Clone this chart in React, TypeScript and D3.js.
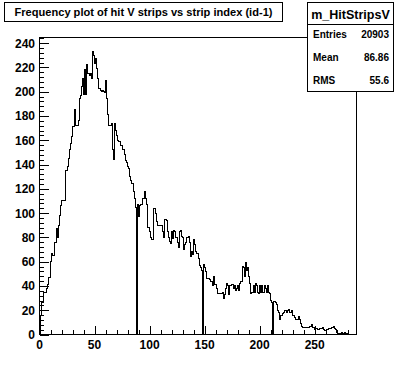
import { useEffect, useRef } from 'react';
import * as d3 from 'd3';

const title = 'Frequency plot of hit V strips vs strip index (id-1)';
const histName = 'm_HitStripsV';
const statLabels = ['Entries', 'Mean', 'RMS'];
const statValues = ['20903', '86.86', '55.6'];

// strip index range
const xMin = 0;
const xMax = 288;

// counts per strip (bins 0..287)
const counts = [
  8, 16, 26, 26, 35, 35, 38, 41, 47, 47,
  60, 67, 65, 65, 76, 87, 80, 90, 98, 106,
  110, 110, 110, 110, 135, 138, 145, 152, 157, 163,
  171, 171, 185, 172, 172, 176, 194, 197, 204, 211,
  198, 218, 198, 222, 215, 213, 215, 211, 233, 230,
  223, 227, 219, 211, 203, 201, 200, 201, 200, 199,
  209, 194, 181, 172, 172, 174, 152, 144, 174, 168,
  164, 160, 159, 159, 156, 152, 152, 148, 143, 142,
  138, 137, 130, 127, 124, 118, 112, 105, 0, 107,
  97, 106, 107, 107, 112, 118, 112, 107, 88, 88,
  85, 80, 78, 78, 104, 100, 93, 90, 90, 90,
  90, 90, 85, 80, 95, 94, 85, 80, 77, 75,
  85, 79, 86, 85, 80, 76, 72, 85, 86, 81,
  80, 70, 74, 76, 80, 81, 76, 64, 68, 66,
  78, 74, 68, 67, 63, 57, 55, 53, 0, 58,
  55, 52, 46, 46, 45, 44, 44, 40, 48, 41,
  41, 38, 34, 34, 34, 34, 35, 30, 33, 38,
  42, 40, 33, 40, 41, 41, 38, 40, 36, 38,
  40, 36, 42, 44, 56, 55, 48, 59, 53, 55,
  48, 42, 34, 35, 40, 35, 42, 40, 35, 34,
  40, 35, 40, 35, 40, 38, 35, 40, 35, 34,
  28, 26, 0, 27, 26, 25, 20, 18, 12, 16,
  16, 17, 18, 20, 18, 20, 21, 18, 18, 20,
  16, 16, 14, 12, 12, 15, 12, 9, 7, 6,
  6, 6, 6, 6, 6, 7, 7, 8, 6, 6,
  4, 5, 5, 4, 5, 5, 5, 6, 4, 3,
  3, 4, 4, 5, 5, 6, 6, 7, 5, 4,
  2, 1, 1, 1, 2, 1, 1, 2, 1, 1,
  0, 0, 0, 0, 0, 0, 0, 0,
];

const xLabelTicks = [0, 50, 100, 150, 200, 250];
const yLabelTicks = [0, 20, 40, 60, 80, 100, 120, 140, 160, 180, 200, 220, 240];

const App = () => {
  const svgRef = useRef<SVGSVGElement>(null);

  useEffect(() => {
    if (!svgRef.current) return;
    const W = 396;
    const H = 372;
    const frame = { left: 39.5, right: 356.5, top: 37.5, bottom: 334.5 };

    const svg = d3.select(svgRef.current);
    svg.selectAll('*').remove();
    svg.attr('width', W).attr('height', H);

    svg.append('rect').attr('width', W).attr('height', H).attr('fill', '#ffffff');

    const yMax = (d3.max(counts) || 1) * 1.05;
    const x = d3.scaleLinear().domain([xMin, xMax]).range([frame.left, frame.right]);
    const y = d3.scaleLinear().domain([0, yMax]).range([frame.bottom, frame.top]);

    const font = '"Liberation Sans", Arial, Helvetica, sans-serif';

    // histogram outline
    const pts: [number, number][] = [[xMin, 0]];
    counts.forEach((c, i) => pts.push([xMin + i, c]));
    pts.push([xMax, counts[counts.length - 1]]);
    pts.push([xMax, 0]);
    const line = d3.line<[number, number]>()
      .x(d => x(d[0]))
      .y(d => y(d[1]))
      .curve(d3.curveStepAfter);
    svg.append('path')
      .attr('d', line(pts))
      .attr('fill', 'none')
      .attr('stroke', '#000')
      .attr('stroke-width', 1)
      .attr('shape-rendering', 'crispEdges');

    // frame
    svg.append('rect')
      .attr('x', frame.left)
      .attr('y', frame.top)
      .attr('width', frame.right - frame.left)
      .attr('height', frame.bottom - frame.top)
      .attr('fill', 'none')
      .attr('stroke', '#000')
      .attr('shape-rendering', 'crispEdges');

    const ticks = svg.append('g').attr('stroke', '#000').attr('shape-rendering', 'crispEdges');

    // x ticks (inside, upward)
    d3.range(xMin, xMax + 1, 10).forEach(v => {
      const major = v % 50 === 0;
      ticks.append('line')
        .attr('x1', Math.round(x(v)) + 0.5).attr('x2', Math.round(x(v)) + 0.5)
        .attr('y1', frame.bottom).attr('y2', frame.bottom - (major ? 9 : 4.5));
    });
    // y ticks (inside, rightward)
    d3.range(0, yMax, 4).forEach(v => {
      const major = v % 20 === 0;
      ticks.append('line')
        .attr('x1', frame.left).attr('x2', frame.left + (major ? 9.5 : 4.75))
        .attr('y1', Math.round(y(v)) + 0.5).attr('y2', Math.round(y(v)) + 0.5);
    });

    svg.selectAll('text.xl')
      .data(xLabelTicks)
      .enter()
      .append('text')
      .attr('x', d => x(d))
      .attr('y', 349)
      .attr('text-anchor', 'middle')
      .style('font-family', font)
      .style('font-weight', 'bold')
      .style('font-size', '12px')
      .text(d => d);

    svg.selectAll('text.yl')
      .data(yLabelTicks)
      .enter()
      .append('text')
      .attr('x', 35)
      .attr('y', d => y(d) + 4.5)
      .attr('text-anchor', 'end')
      .style('font-family', font)
      .style('font-weight', 'bold')
      .style('font-size', '12px')
      .text(d => d);

    // title box
    svg.append('rect')
      .attr('x', 4.5).attr('y', 2.5).attr('width', 278).attr('height', 19)
      .attr('fill', '#fff').attr('stroke', '#000').attr('shape-rendering', 'crispEdges');
    svg.append('text')
      .attr('x', 143.5).attr('y', 15.5)
      .attr('text-anchor', 'middle')
      .attr('textLength', 258)
      .attr('lengthAdjust', 'spacingAndGlyphs')
      .style('font-family', font)
      .style('font-weight', 'bold')
      .style('font-size', '10px')
      .text(title);

    // stats box
    const sb = { x: 307.5, y: 2.5, w: 86, h: 89 };
    svg.append('rect')
      .attr('x', sb.x).attr('y', sb.y).attr('width', sb.w).attr('height', sb.h)
      .attr('fill', '#fff').attr('stroke', '#000').attr('shape-rendering', 'crispEdges');
    svg.append('line')
      .attr('x1', sb.x).attr('x2', sb.x + sb.w).attr('y1', 24.5).attr('y2', 24.5)
      .attr('stroke', '#000').attr('shape-rendering', 'crispEdges');
    svg.append('text')
      .attr('x', sb.x + sb.w / 2).attr('y', 18.5)
      .attr('text-anchor', 'middle')
      .style('font-family', font)
      .style('font-weight', 'bold')
      .style('font-size', '12.5px')
      .text(histName);
    statLabels.forEach((lab, i) => {
      const ty = 37.5 + i * 23;
      svg.append('text')
        .attr('x', 313).attr('y', ty)
        .style('font-family', font).style('font-weight', 'bold').style('font-size', '10px')
        .text(lab);
      svg.append('text')
        .attr('x', 389).attr('y', ty)
        .attr('text-anchor', 'end')
        .style('font-family', font).style('font-weight', 'bold').style('font-size', '10px')
        .text(statValues[i]);
    });
  }, []);

  return (
    <div style={{ position: 'absolute', left: 0, top: 0, background: '#fff' }}>
      <svg ref={svgRef} style={{ display: 'block' }}></svg>
    </div>
  );
};

export default App;
